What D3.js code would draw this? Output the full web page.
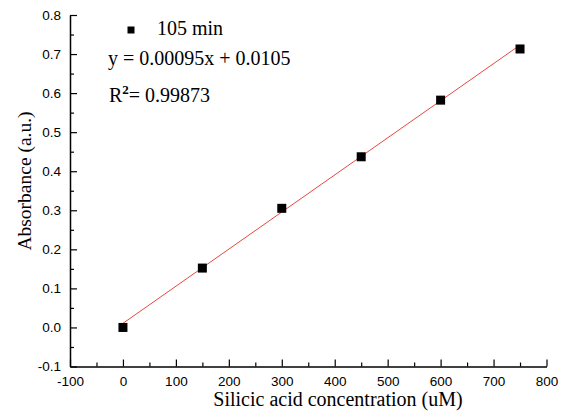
<!DOCTYPE html>
<html>
<head>
<meta charset="utf-8">
<script src="https://cdn.jsdelivr.net/npm/d3@7"></script>
<style>
  html, body { margin: 0; padding: 0; background: #fff; }
  svg { display: block; }
</style>
</head>
<body>
<svg id="chart" width="563" height="417"></svg>
<script>
// Calibration data: silicic acid standards at 105 min
const concentrations = [0, 150, 300, 450, 600, 750];
const absorbance = [0.0, 0.152, 0.305, 0.437, 0.582, 0.713];
const fitSlope = 0.00095;
const fitIntercept = 0.0105;
const xTicks = [-100, 0, 100, 200, 300, 400, 500, 600, 700, 800];
const yTicks = [-0.1, 0.0, 0.1, 0.2, 0.3, 0.4, 0.5, 0.6, 0.7, 0.8];
const legendLabel = "105 min";
const equationLabel = "y = 0.00095x + 0.0105";
const r2Value = "= 0.99873";

const svg = d3.select("#chart");
const plotLeft = 70, plotRight = 546.5, plotTop = 15, plotBottom = 366.5;

const x = d3.scaleLinear().domain([-100, 800]).range([plotLeft, plotRight]);
const y = d3.scaleLinear().domain([-0.1, 0.8]).range([plotBottom, plotTop]);

const sans = "Liberation Sans, Arial, sans-serif";
const serif = "Liberation Serif, Times New Roman, serif";

// Plain hyphen for negative tick values
const fmtX = d => d3.format("d")(d).replace("\u2212", "-");
const fmtY = d => d3.format(".1f")(d).replace("\u2212", "-");

// Axes with inward ticks
const xMinor = d3.range(-50, 800, 100);
const yMinor = d3.range(-0.05, 0.8, 0.1);

const gx = svg.append("g").attr("transform", `translate(0,${plotBottom})`);
gx.call(d3.axisBottom(x).tickValues(xMinor).tickSize(-4).tickFormat(""));
gx.call(g => g.select(".domain").remove());
svg.append("g").attr("transform", `translate(0,${plotBottom})`)
  .call(d3.axisBottom(x).tickValues(xTicks).tickSize(-7).tickPadding(10).tickSizeOuter(0).tickFormat(fmtX));

const gy = svg.append("g").attr("transform", `translate(${plotLeft},0)`);
gy.call(d3.axisLeft(y).tickValues(yMinor).tickSize(-4).tickFormat(""));
gy.call(g => g.select(".domain").remove());
svg.append("g").attr("transform", `translate(${plotLeft},0)`)
  .call(d3.axisLeft(y).tickValues(yTicks).tickSize(-7).tickPadding(9).tickSizeOuter(0).tickFormat(fmtY));

svg.selectAll(".tick line").attr("stroke", "#000").attr("stroke-width", 1.2);
svg.selectAll(".domain").attr("stroke", "#000").attr("stroke-width", 1.5);
svg.selectAll(".tick text").attr("font-family", sans).attr("font-size", 13.5).attr("fill", "#000");

// Axis titles
svg.append("text")
  .attr("x", 338).attr("y", 406)
  .attr("text-anchor", "middle")
  .attr("font-family", serif).attr("font-size", 20)
  .text("Silicic acid concentration (uM)");

svg.append("text")
  .attr("transform", "translate(31,181) rotate(-90)")
  .attr("text-anchor", "middle")
  .attr("font-family", serif).attr("font-size", 19.5)
  .text("Absorbance (a.u.)");

// Linear fit
const fitLine = d3.line().x(d => x(d)).y(d => y(fitSlope * d + fitIntercept));
svg.append("path")
  .datum([d3.min(concentrations), d3.max(concentrations)])
  .attr("d", fitLine)
  .attr("fill", "none")
  .attr("stroke", "#e8473f")
  .attr("stroke-width", 1);

// Data points
const sz = 9;
svg.selectAll("rect.pt")
  .data(concentrations.map((c, i) => [c, absorbance[i]]))
  .join("rect")
  .attr("class", "pt")
  .attr("x", d => x(d[0]) - sz / 2)
  .attr("y", d => y(d[1]) - sz / 2)
  .attr("width", sz).attr("height", sz)
  .attr("fill", "#000");

// Legend and fit annotation
svg.append("rect").attr("x", 127.5).attr("y", 26.5).attr("width", 7).attr("height", 7).attr("fill", "#000");
svg.append("text").attr("x", 157).attr("y", 35)
  .attr("font-family", serif).attr("font-size", 20).text(legendLabel);
svg.append("text").attr("x", 108).attr("y", 65)
  .attr("font-family", serif).attr("font-size", 20).text(equationLabel);
const r2 = svg.append("text").attr("x", 109).attr("y", 102)
  .attr("font-family", serif).attr("font-size", 20);
r2.append("tspan").text("R");
r2.append("tspan").attr("dy", -8).attr("font-size", 13).attr("font-weight", "bold").text("2");
r2.append("tspan").attr("dy", 8).text(r2Value);
</script>
</body>
</html>
